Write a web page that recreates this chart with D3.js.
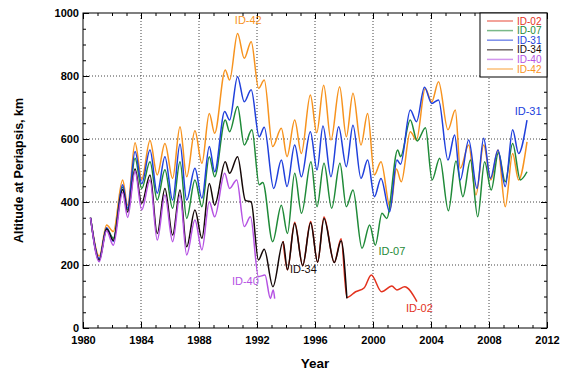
<!DOCTYPE html>
<html>
<head>
<meta charset="utf-8">
<script src="https://cdn.jsdelivr.net/npm/d3@7"></script>
<style>
  body { margin: 0; background: #fff; }
  svg { display: block; }
  text { font-family: "Liberation Sans", Arial, Helvetica, sans-serif; }
</style>
</head>
<body>
<svg id="chart" width="570" height="375"></svg>
<script>
// [year, altitude km] read at peaks and troughs
const id42 = [[1980.52,350],[1981.12,228],[1981.63,327],[1982.09,306],[1982.73,470],[1983.08,390],[1983.59,588],
  [1984.05,472],[1984.62,595],[1985.12,486],[1985.65,586],[1986.18,475],[1986.69,639],[1987.15,480],[1987.72,626],
  [1988.2,523],[1988.71,681],[1989.08,618],[1989.81,819],[1990.11,787],[1990.66,935],[1991.12,856],[1991.6,909],
  [1992.11,761],[1992.5,787],[1993.08,576],[1993.68,634],[1994.07,544],[1994.6,660],[1995.06,554],[1995.68,740],
  [1996.12,620],[1996.6,771],[1997.1,597],[1997.7,766],[1998.16,607],[1998.62,745],[1999.17,581],[1999.63,681],
  [2000.1,486],[2000.55,528],[2001.19,380],[2001.62,505],[2001.95,464],[2002.57,623],[2003.0,597],[2003.6,760],
  [2004.05,718],[2004.52,782],[2005.17,629],[2005.68,692],[2006.02,507],[2006.6,581],[2007.1,422],[2007.63,581],
  [2008.13,470],[2008.62,565],[2009.12,385],[2009.63,554],[2010.04,470],[2010.62,591]];

const id31 = [[1980.52,350],[1981.12,220],[1981.63,318],[1982.09,275],[1982.73,455],[1983.08,380],[1983.59,560],
  [1984.05,458],[1984.62,565],[1985.12,428],[1985.65,544],[1986.18,406],[1986.69,584],[1987.15,406],[1987.72,507],
  [1988.2,412],[1988.71,576],[1989.08,496],[1989.77,687],[1990.11,660],[1990.66,798],[1991.12,718],[1991.6,756],
  [1992.15,607],[1992.5,637],[1993.15,443],[1993.68,533],[1994.07,449],[1994.6,581],[1995.06,480],[1995.68,623],
  [1996.14,502],[1996.55,641],[1997.1,480],[1997.63,639],[1998.16,512],[1998.62,644],[1999.17,475],[1999.63,533],
  [2000.1,417],[2000.55,475],[2001.15,369],[2001.65,533],[2001.9,520],[2002.57,692],[2003.0,655],[2003.55,764],
  [2004.05,713],[2004.52,724],[2005.17,533],[2005.63,613],[2006.02,470],[2006.6,597],[2007.17,443],[2007.63,602],
  [2008.1,475],[2008.62,565],[2009.12,449],[2009.63,629],[2010.04,554],[2010.62,660]];

const id07 = [[1980.52,350],[1981.12,218],[1981.63,316],[1982.09,285],[1982.73,448],[1983.08,375],[1983.59,539],
  [1984.05,443],[1984.62,528],[1985.12,406],[1985.65,502],[1986.18,380],[1986.69,528],[1987.15,348],[1987.72,470],
  [1988.2,385],[1988.71,544],[1989.08,480],[1989.81,660],[1990.11,623],[1990.66,703],[1991.12,581],[1991.65,629],
  [1992.15,455],[1992.4,462],[1993.08,274],[1993.68,390],[1994.1,300],[1994.6,491],[1995.07,364],[1995.72,528],
  [1996.14,385],[1996.62,523],[1997.15,380],[1997.72,523],[1998.16,385],[1998.62,438],[1999.24,253],[1999.77,327],
  [2000.16,263],[2000.62,364],[2000.95,348],[2001.7,565],[2001.9,544],[2002.57,660],[2003.05,594],[2003.62,636],
  [2004.07,470],[2004.6,539],[2005.2,372],[2005.72,530],[2006.2,417],[2006.72,533],[2007.22,353],[2007.7,528],
  [2008.15,438],[2008.65,557],[2009.12,464],[2009.63,586],[2010.16,470],[2010.62,496]];

const id34 = [[1980.52,350],[1981.12,215],[1981.63,314],[1982.09,278],[1982.73,440],[1983.08,368],[1983.59,505],
  [1984.05,396],[1984.62,486],[1985.12,300],[1985.65,443],[1986.18,295],[1986.69,438],[1987.15,258],[1987.72,375],
  [1988.2,285],[1988.71,459],[1989.08,390],[1989.81,528],[1990.11,491],[1990.66,544],[1991.2,405],[1991.6,400],
  [1992.1,216],[1992.5,250],[1993.1,131],[1993.8,274],[1994.1,185],[1994.6,332],[1995.15,198],[1995.7,334],
  [1996.18,209],[1996.62,348],[1997.33,208],[1997.8,277],[1998.2,94]];

const id02 = [[1993.8,276],[1994.1,185],[1994.6,336],[1995.15,198],[1995.7,338],[1996.18,209],[1996.62,352],
  [1997.33,208],[1997.8,283],[1998.2,97],[1998.8,115],[1999.4,128],[1999.88,168],[2000.6,115],[2001.3,133],
  [2001.65,121],[2002.18,131],[2003.03,84]];

const id40 = [[1980.52,350],[1981.12,210],[1981.63,309],[1982.09,263],[1982.73,430],[1983.08,351],[1983.59,498],
  [1984.05,375],[1984.62,470],[1985.12,279],[1985.65,422],[1986.18,274],[1986.69,422],[1987.15,232],[1987.72,343],
  [1988.2,248],[1988.71,401],[1989.08,353],[1989.77,491],[1990.11,443],[1990.6,470],[1991.12,322],[1991.55,353],
  [1992.1,163],[1992.55,168],[1992.92,94],[1993.12,121],[1993.22,93]];

const seriesNames = ['ID-02', 'ID-07', 'ID-31', 'ID-34', 'ID-40', 'ID-42'];
const yTicks = [0, 200, 400, 600, 800, 1000];
const xTicks = [1980, 1984, 1988, 1992, 1996, 2000, 2004, 2008, 2012];

const colors = {
  'ID-02': '#e3321e', 'ID-07': '#1f8a38', 'ID-31': '#2040dc',
  'ID-34': '#150808', 'ID-40': '#b552e3', 'ID-42': '#f7931e'
};
const dataByName = {
  'ID-02': id02, 'ID-07': id07, 'ID-31': id31, 'ID-34': id34, 'ID-40': id40, 'ID-42': id42
};

const margin = {top: 13, right: 23, bottom: 47, left: 83};
const width = 570, height = 375;
const svg = d3.select('#chart');

const x = d3.scaleLinear().domain([1980, 2012]).range([margin.left, width - margin.right]);
const y = d3.scaleLinear().domain([0, 1000]).range([height - margin.bottom, margin.top]);

// dotted grid
const grid = svg.append('g').attr('stroke', '#444').attr('stroke-dasharray', '1,2').attr('stroke-width', 1);
grid.selectAll('.gx').data(xTicks.slice(1, -1)).join('line')
  .attr('x1', d => x(d)).attr('x2', d => x(d))
  .attr('y1', y(0)).attr('y2', y(1000));
grid.selectAll('.gy').data(yTicks.slice(1, -1)).join('line')
  .attr('x1', x(1980)).attr('x2', x(2012))
  .attr('y1', d => y(d)).attr('y2', d => y(d));

// lines
const line = d3.line().x(d => x(d[0])).y(d => y(d[1])).curve(d3.curveMonotoneX);
const drawOrder = ['ID-42', 'ID-07', 'ID-31', 'ID-02', 'ID-34', 'ID-40'];
svg.append('g').selectAll('path').data(drawOrder).join('path')
  .attr('d', n => line(dataByName[n]))
  .attr('fill', 'none')
  .attr('stroke', n => colors[n])
  .attr('stroke-width', 1.5)
  .attr('stroke-linejoin', 'round');

// axes with inward ticks
const minorX = d3.range(1980, 2013);
const minorY = d3.range(0, 1001, 50);

svg.append('g').attr('transform', `translate(0,${y(0)})`)
  .call(d3.axisBottom(x).tickValues(minorX).tickSize(-3).tickFormat(''))
  .call(g => g.select('.domain').remove());
svg.append('g').attr('class', 'axis').attr('transform', `translate(0,${y(0)})`)
  .call(d3.axisBottom(x).tickValues(xTicks).tickSize(-6).tickPadding(8).tickFormat(d3.format('d')))
  .call(g => g.select('.domain').remove());
svg.append('g').attr('transform', `translate(0,${y(1000)})`)
  .call(d3.axisTop(x).tickValues(minorX).tickSize(-3).tickFormat(''))
  .call(g => g.select('.domain').remove());
svg.append('g').attr('transform', `translate(0,${y(1000)})`)
  .call(d3.axisTop(x).tickValues(xTicks).tickSize(-6).tickFormat(''))
  .call(g => g.select('.domain').remove());

svg.append('g').attr('transform', `translate(${x(1980)},0)`)
  .call(d3.axisLeft(y).tickValues(minorY).tickSize(-3).tickFormat(''))
  .call(g => g.select('.domain').remove());
svg.append('g').attr('class', 'axis').attr('transform', `translate(${x(1980)},0)`)
  .call(d3.axisLeft(y).tickValues(yTicks).tickSize(-6).tickPadding(4).tickFormat(d3.format('d')))
  .call(g => g.select('.domain').remove());
svg.append('g').attr('transform', `translate(${x(2012)},0)`)
  .call(d3.axisRight(y).tickValues(minorY).tickSize(-3).tickFormat(''))
  .call(g => g.select('.domain').remove());
svg.append('g').attr('transform', `translate(${x(2012)},0)`)
  .call(d3.axisRight(y).tickValues(yTicks).tickSize(-6).tickFormat(''))
  .call(g => g.select('.domain').remove());

svg.selectAll('.axis text')
  .style('font-size', '11px').style('font-weight', 'bold').attr('fill', '#000');

// frame
svg.append('rect')
  .attr('x', x(1980)).attr('y', y(1000))
  .attr('width', x(2012) - x(1980)).attr('height', y(0) - y(1000))
  .attr('fill', 'none').attr('stroke', '#000').attr('stroke-width', 1);

// axis titles
svg.append('text').attr('x', (x(1980) + x(2012)) / 2).attr('y', 368)
  .attr('text-anchor', 'middle').style('font-size', '13.5px').style('font-weight', 'bold')
  .text('Year');
svg.append('text').attr('transform', `translate(23,${(y(0) + y(1000)) / 2}) rotate(-90)`)
  .attr('text-anchor', 'middle').style('font-size', '12.5px').style('font-weight', 'bold')
  .text('Altitude at Periapsis, km');

// in-plot labels
const labels = [
  {n: 'ID-42', at: [1991.4, 965]}, {n: 'ID-31', at: [2010.7, 675]},
  {n: 'ID-07', at: [2001.3, 232]}, {n: 'ID-34', at: [1995.2, 175]},
  {n: 'ID-40', at: [1991.2, 135]}, {n: 'ID-02', at: [2003.2, 50]}
];
svg.append('g').selectAll('text').data(labels).join('text')
  .attr('x', d => x(d.at[0])).attr('y', d => y(d.at[1]))
  .attr('text-anchor', 'middle')
  .attr('fill', d => colors[d.n])
  .style('font-size', '11px')
  .text(d => d.n);

// legend
const lg = svg.append('g').attr('transform', 'translate(480,13)');
lg.append('rect').attr('width', 67).attr('height', 64)
  .attr('fill', '#fff').attr('stroke', '#000').attr('stroke-width', 1);
const rows = lg.selectAll('g').data(seriesNames).join('g')
  .attr('transform', (d, i) => `translate(0,${8 + i * 9.6})`);
rows.append('line').attr('x1', 7).attr('x2', 33)
  .attr('stroke', d => colors[d]).attr('stroke-opacity', 0.6).attr('stroke-width', 1.5);
rows.append('text').attr('x', 37).attr('dy', '0.35em')
  .attr('fill', d => colors[d]).style('font-size', '10px')
  .text(d => d);
</script>
</body>
</html>
